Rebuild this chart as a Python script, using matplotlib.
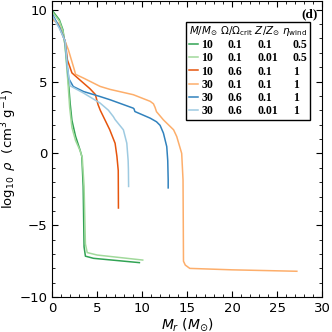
import numpy as np
import matplotlib
matplotlib.use('Agg')
import matplotlib.pyplot as plt
from matplotlib.lines import Line2D
from matplotlib.ticker import MultipleLocator

# model parameters (legend table)
masses = ['10', '10', '10', '30', '30', '30']
omegas = ['0.1', '0.1', '0.6', '0.1', '0.6', '0.6']
metals = ['0.1', '0.01', '0.1', '0.1', '0.1', '0.01']
etas = ['0.5', '0.5', '1', '1', '1', '1']
colors = ['#31a354', '#a1d99b', '#e6550d', '#fdae6b', '#3182bd', '#9ecae1']

# density profiles: Mr (Msun), log10 rho
m10_a_x = [0, 0.8, 1.2, 1.44, 1.8, 2.0, 2.2, 2.6, 3.1, 3.3, 3.45, 3.55, 3.7, 4.6, 9.7]
m10_a_y = [9.95, 9.3, 8.6, 7.5, 5.1, 3.5, 2.3, 1.2, 0.24, -0.2, -2.3, -6.5, -7.15, -7.3, -7.6]
m10_b_x = [0, 0.8, 1.2, 1.44, 1.75, 1.95, 2.2, 2.6, 3.1, 3.35, 3.55, 3.7, 3.9, 5.0, 10.07]
m10_b_y = [9.85, 9.2, 8.5, 7.5, 5.0, 3.2, 1.8, 0.9, 0.2, -0.3, -2.3, -6.3, -6.9, -7.07, -7.42]
m10_c_x = [0, 0.8, 1.45, 1.55, 1.7, 2.2, 3.1, 4.2, 4.8, 5.1, 5.35, 6.4, 7.0, 7.2, 7.35, 7.37]
m10_c_y = [9.5, 8.8, 7.8, 7.3, 6.5, 5.6, 5.1, 4.5, 4.1, 3.4, 3.0, 1.65, 0.7, -0.2, -1.2, -3.8]
m30_a_x = [0, 0.7, 1.07, 1.44, 1.81, 2.5, 2.6, 3.48, 5.33, 6.44, 9.03, 10.9, 11.26, 11.44, 11.6,
           12.37, 13.5, 13.85, 14.4, 14.55, 14.6, 14.8, 15.3, 20, 27.2]
m30_a_y = [9.3, 9.05, 8.4, 7.8, 7.2, 5.75, 5.5, 5.24, 4.66, 4.45, 4.08, 3.62, 3.45, 3.2, 2.9,
           2.33, 1.64, 1.17, 0.0, -1.85, -7.5, -7.77, -8.0, -8.1, -8.2]
m30_b_x = [0, 0.8, 1.45, 1.7, 1.85, 2.35, 3.5, 5.3, 6.44, 9.0, 9.1, 9.2, 10.9, 11.6, 12.0,
           12.37, 12.74, 12.85, 12.9, 12.9]
m30_b_y = [9.7, 8.8, 7.8, 6.0, 5.2, 4.65, 4.3, 3.96, 3.73, 3.15, 3.1, 2.91, 2.45, 2.2, 1.95,
           1.41, 0.47, -0.5, -1.85, -2.4]
m30_c_x = [0, 0.8, 1.45, 1.7, 2.0, 3.48, 5.33, 6.26, 6.44, 6.8, 7.0, 7.92, 8.3, 8.45, 8.48, 8.5]
m30_c_y = [9.6, 8.7, 7.8, 6.0, 4.7, 4.2, 3.5, 3.0, 2.85, 2.56, 2.35, 1.64, 0.71, -0.5, -1.15, -2.3]

profiles = [(m10_a_x, m10_a_y), (m10_b_x, m10_b_y), (m10_c_x, m10_c_y),
            (m30_a_x, m30_a_y), (m30_b_x, m30_b_y), (m30_c_x, m30_c_y)]

fig = plt.figure(figsize=(3.32, 3.32), dpi=100)
ax = fig.add_axes([0.157, 0.105, 0.813, 0.892])

for (x, y), c in zip(profiles, colors):
    ax.plot(x, y, color=c, lw=1.1)

ax.set_xlim(0, 30)
ax.set_ylim(-10, 10.6)
ax.xaxis.set_major_locator(MultipleLocator(5))
ax.xaxis.set_minor_locator(MultipleLocator(1))
ax.yaxis.set_major_locator(MultipleLocator(5))
ax.yaxis.set_minor_locator(MultipleLocator(1))
ax.tick_params(which='both', direction='in', top=True, right=True, labelsize=9.5)
ax.tick_params(which='major', length=4)
ax.tick_params(which='minor', length=2)
ax.set_xlabel(r'$M_r\ (M_{\odot})$', fontsize=10, labelpad=1)
ax.set_ylabel(r'$\log_{10}\ \rho\ \ (\mathrm{cm}^3\ \mathrm{g}^{-1})$', fontsize=9.5, labelpad=0)

ax.text(0.985, 0.975, '(d)', transform=ax.transAxes, ha='right', va='top',
        fontsize=9.5, fontweight='bold', family='Liberation Serif')

# legend as a 4-column table
blank = Line2D([], [], color='none')
handles = [Line2D([], [], color=c, lw=1.1) for c in colors] + [blank] * 18
labels = masses + omegas + metals + etas
leg = ax.legend(handles, labels, ncol=4, loc='upper right', bbox_to_anchor=(0.955, 0.93),
                title=r'$M/M_{\odot}$ $\Omega/\Omega_{\rm crit}$ $Z/Z_{\odot}$ $\eta_{\rm wind}$',
                alignment='left', title_fontsize=7.5,
                prop={'family': 'Liberation Serif', 'weight': 'bold', 'size': 8.5},
                handlelength=0.8, handletextpad=0.25, columnspacing=0.2,
                labelspacing=0.1, borderpad=0.2, fancybox=False, framealpha=1,
                edgecolor='black', borderaxespad=0)
leg.get_frame().set_linewidth(1.0)

fig.savefig('out.png', dpi=100)
